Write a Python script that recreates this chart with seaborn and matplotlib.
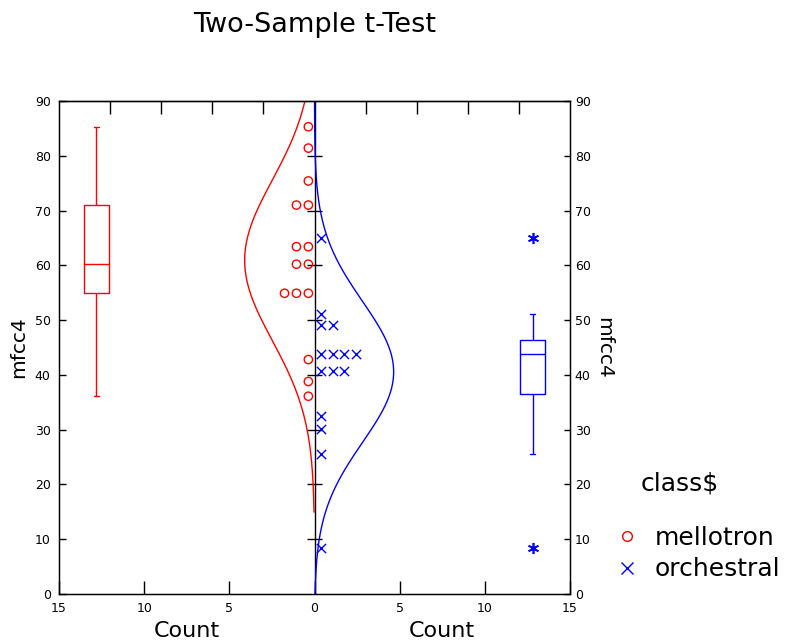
import numpy as np
import pandas as pd
import matplotlib
matplotlib.use("Agg")
import matplotlib.pyplot as plt
import matplotlib.transforms as mtransforms
from matplotlib.lines import Line2D
import seaborn as sns

# ---------------- data ----------------
classes = ["mellotron", "orchestral"]
mellotron = [36.1, 38.8, 42.8, 54.9, 54.9, 54.9, 60.2, 60.2, 63.4, 63.4,
             71.0, 71.0, 75.4, 81.4, 85.3]
orchestral = [8.4, 25.6, 30.2, 32.5, 40.7, 40.7, 40.7, 43.8, 43.8, 43.8,
              43.8, 49.1, 49.1, 51.1, 64.9]
x_ticks = [-15, -10, -5, 0, 5, 10, 15]
x_tick_labels = ["15", "10", "5", "0", "5", "10", "15"]
top_ticks = [-12, -9, -6, -3, 3, 6, 9, 12]
y_ticks = [0, 10, 20, 30, 40, 50, 60, 70, 80, 90]
center_ticks = [10, 20, 30, 40, 50, 60, 70, 80]
palette = {"mellotron": "#ff0000", "orchestral": "#0000ff"}

# ---------------- layout constants ----------------
BOX_X = 12.8        # |x| position of the box plots (count units)
BOX_W = 1.5         # box width (count units)
CAP_W = 0.32        # whisker cap width (count units)
DOT_OFFSET = 0.36   # first dot centre offset from 0
DOT_STEP = 0.7      # spacing of stacked dots
BIN_WIDTH = 10.0    # scaling of normal curve into counts

sns.set_theme(style="white")
plt.rcParams["font.family"] = ["DejaVu Sans"]
plt.rcParams.update({
    "axes.edgecolor": "black", "axes.linewidth": 0.9,
    "text.color": "black", "axes.labelcolor": "black",
    "xtick.color": "black", "ytick.color": "black",
    "xtick.labelcolor": "black", "ytick.labelcolor": "black",
})

df = pd.DataFrame({
    "class": ["mellotron"] * len(mellotron) + ["orchestral"] * len(orchestral),
    "mfcc4": mellotron + orchestral,
})
df["side"] = df["class"].map({"mellotron": -1, "orchestral": 1})
df["stack"] = df.groupby(["class", "mfcc4"]).cumcount()
df["count_x"] = df["side"] * (DOT_OFFSET + DOT_STEP * df["stack"])
df["box_x"] = df["side"] * BOX_X

fig = plt.figure(figsize=(7.87, 6.43), dpi=100)
ax = fig.add_axes([59 / 787, (643 - 594) / 643, 511 / 787, 493 / 643])

# centre axis
ax.axvline(0, color="black", lw=1.0, zorder=1)
ax.hlines(center_ticks, -0.42, 0.42, color="black", lw=1.0, zorder=1)

# normal curves scaled to counts
for cls in classes:
    vals = np.asarray(df.loc[df["class"] == cls, "mfcc4"])
    m, s = vals.mean(), vals.std(ddof=1)
    side = -1 if cls == "mellotron" else 1
    yy = np.linspace(max(0.0, m - 3.15 * s), 90, 300)
    dens = len(vals) * BIN_WIDTH * np.exp(-0.5 * ((yy - m) / s) ** 2) / (np.sqrt(2 * np.pi) * s)
    sns.lineplot(x=side * dens, y=yy, orient="y", sort=False, estimator=None,
                 color=palette[cls], lw=1.0, ax=ax, zorder=2)

# stacked dots
mel = df[df["class"] == "mellotron"]
orc = df[df["class"] == "orchestral"]
sns.scatterplot(x=mel["count_x"], y=mel["mfcc4"], marker="o", s=36,
                facecolors="none", edgecolor=palette["mellotron"], linewidth=1.0,
                ax=ax, zorder=3)
sns.scatterplot(x=orc["count_x"], y=orc["mfcc4"], marker="x", s=44,
                color=palette["orchestral"], linewidth=1.0, ax=ax, zorder=3)

# box plots
sns.boxplot(data=df, x="box_x", y="mfcc4", hue="class", palette=palette,
            native_scale=True, fill=False, width=BOX_W / (2 * BOX_X),
            linewidth=1.0, whis=1.5, legend=False, saturation=1, ax=ax,
            capwidths=CAP_W,
            flierprops=dict(marker=(6, 2, 0), markersize=8, markeredgewidth=1.2,
                            markerfacecolor=palette["orchestral"],
                            markeredgecolor=palette["orchestral"]))

ax.set_xlim(-15, 15)
ax.set_ylim(0, 90)
ax.set_xticks(x_ticks)
ax.set_xticklabels(x_tick_labels)
ax.set_yticks(y_ticks)
ax.set_xlabel("")
ax.set_ylabel("mfcc4", fontsize=14.5, labelpad=5)
ax.tick_params(axis="x", direction="in", length=9.5, width=1.0, pad=6,
               labelsize=9, color="black", bottom=True)
ax.tick_params(axis="y", direction="in", length=5, width=1.0, pad=6,
               labelsize=9, color="black", left=True)
for sp in ax.spines.values():
    sp.set_color("black")
    sp.set_linewidth(0.9)

top = ax.secondary_xaxis("top")
top.set_xticks(top_ticks)
top.tick_params(direction="in", length=9.5, width=1.0, labeltop=False, color="black")

ax2 = ax.twinx()
ax2.set_ylim(0, 90)
ax2.set_yticks(y_ticks)
ax2.tick_params(axis="y", direction="in", length=4.5, width=1.0, pad=3.5,
                labelsize=9, color="black", right=True)
ax2.set_ylabel("mfcc4", fontsize=14.5, rotation=270, labelpad=2, va="bottom")
ax2.grid(False)

# Count labels
trans = mtransforms.blended_transform_factory(ax.transData, ax.transAxes)
for xc in (-7.5, 7.5):
    ax.text(xc, -37 / 493, "Count", transform=trans, ha="center", va="center",
            fontsize=16)

# title
ax.text(0.5, (594 - 25) / 493, "Two-Sample t-Test", transform=ax.transAxes,
        ha="center", va="center", fontsize=19.5)

# legend
handles = [
    Line2D([], [], ls="", marker="o", ms=7, mfc="none", mec=palette["mellotron"], mew=1.0),
    Line2D([], [], ls="", marker="x", ms=8, color=palette["orchestral"], mew=1.0),
]
fig.text(641 / 787, 1 - 484 / 643, "class$", fontsize=18, ha="left", va="center")
fig.legend(handles, classes, loc="upper left",
           bbox_to_anchor=(612 / 787, 1 - 521 / 643), frameon=False,
           fontsize=18, handlelength=0.8, handletextpad=0.7, labelspacing=0.3,
           borderpad=0.2, borderaxespad=0)

fig.savefig("out.png", dpi=100, facecolor="white")
